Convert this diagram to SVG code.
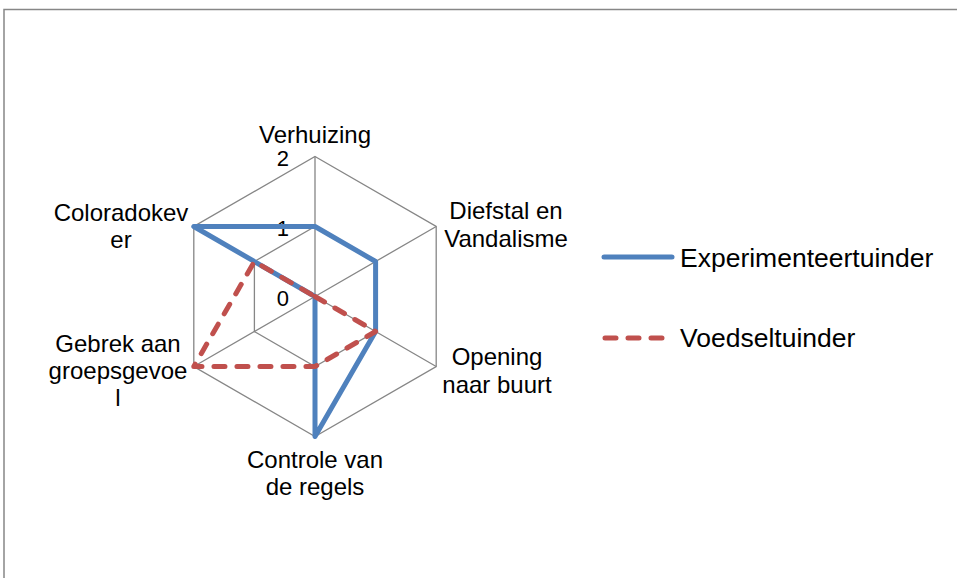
<svg xmlns="http://www.w3.org/2000/svg" width="957" height="578" viewBox="0 0 957 578">
<style>
text{font-family:"Liberation Sans",Arial,sans-serif;fill:#000}
.ax{font-size:24px;text-anchor:middle}
.tk{font-size:22px;text-anchor:end}
.lg{font-size:26.5px}
.grid{fill:none;stroke:#868686;stroke-width:1.3}
.s1{fill:none;stroke:#4F81BD;stroke-width:5;stroke-linejoin:round;stroke-linecap:round}
.s2{fill:none;stroke:#C0504D;stroke-width:5;stroke-linejoin:round;stroke-linecap:round;stroke-dasharray:11 12}
</style>
<rect x="0" y="0" width="957" height="578" fill="#fff"/>
<rect x="4" y="9.5" width="1000" height="1000" fill="none" stroke="#878787" stroke-width="1.5"/>
<g id="grid" class="grid">
<polygon points="315,156.5 436.2,226.5 436.2,366.5 315,436.5 193.8,366.5 193.8,226.5"/>
<polygon points="315,226.5 375.6,261.5 375.6,331.5 315,366.5 254.4,331.5 254.4,261.5"/>
<path d="M315,296.5V156.5M315,296.5L436.2,226.5M315,296.5L436.2,366.5M315,296.5V436.5M315,296.5L193.8,366.5M315,296.5L193.8,226.5"/>
</g>
<g id="ticks">
<text class="tk" x="289" y="166">2</text>
<text class="tk" x="289" y="236">1</text>
<text class="tk" x="289" y="306">0</text>
</g>
<g id="series">
<polygon id="experimenteertuinder" class="s1" points="315,226.5 375.6,261.5 375.6,331.5 315,436.5 315,296.5 193.8,226.5"/>
<polygon id="voedseltuinder" class="s2" points="315,296.5 375.6,331.5 315,366.5 193.8,366.5 254.4,261.5"/>
</g>
<g id="axis-labels">
<g id="verhuizing"><text class="ax" x="315" y="143">Verhuizing</text></g>
<g id="diefstal"><text class="ax" x="506" y="219">Diefstal en</text><text class="ax" x="506" y="247">Vandalisme</text></g>
<g id="opening"><text class="ax" x="497" y="365">Opening</text><text class="ax" x="497" y="393">naar buurt</text></g>
<g id="controle"><text class="ax" x="315" y="468">Controle van</text><text class="ax" x="315" y="495">de regels</text></g>
<g id="gebrek"><text class="ax" x="118" y="352">Gebrek aan</text><text class="ax" x="118" y="379">groepsgevoe</text><text class="ax" x="118" y="406">l</text></g>
<g id="coloradokever"><text class="ax" x="121" y="221">Coloradokev</text><text class="ax" x="121" y="248">er</text></g>
</g>
<g id="legend">
<line x1="604" y1="257" x2="672" y2="257" class="s1"/>
<text class="lg" x="680" y="267">Experimenteertuinder</text>
<line x1="605" y1="338" x2="668" y2="338" class="s2"/>
<text class="lg" x="680" y="347">Voedseltuinder</text>
</g>
</svg>
